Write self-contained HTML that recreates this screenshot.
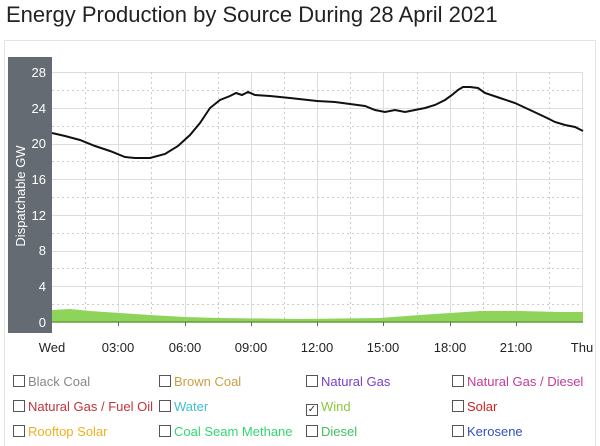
<!DOCTYPE html>
<html><head><style>
body{margin:0;background:#fff;font-family:"Liberation Sans",sans-serif;}
.t{position:absolute;left:6px;top:2px;font-size:22px;color:#222;}
.card{position:absolute;left:4px;top:40px;width:590px;height:405px;border:1px solid #e3e3e3;border-bottom:none;}
.lg{position:absolute;font-size:13px;}
.lg span{display:inline-block;width:10px;height:10px;border:1px solid #555;margin-right:3px;vertical-align:-1px;}
</style></head><body>
<div class="t">Energy Production by Source During 28 April 2021</div>
<div class="card"></div>
<svg width="600" height="445" style="position:absolute;left:0;top:0">
<rect x="8" y="57" width="44" height="276" fill="#646b72"/>
<text transform="translate(25,196) rotate(-90)" text-anchor="middle" font-size="13" fill="#fff" font-family="Liberation Sans">Dispatchable GW</text>
<g font-size="13" fill="#fff" text-anchor="end" font-family="Liberation Sans">
<text x="46" y="77">28</text><text x="46" y="113">24</text><text x="46" y="148">20</text><text x="46" y="184">16</text><text x="46" y="220">12</text><text x="46" y="255">8</text><text x="46" y="291">4</text><text x="46" y="327">0</text></g>
<g stroke="#ddd" stroke-width="1">
<line x1="52" x2="583" y1="72.5" y2="72.5"/><line x1="52" x2="583" y1="108.5" y2="108.5"/><line x1="52" x2="583" y1="144.5" y2="144.5"/><line x1="52" x2="583" y1="179.5" y2="179.5"/><line x1="52" x2="583" y1="215.5" y2="215.5"/><line x1="52" x2="583" y1="251.5" y2="251.5"/><line x1="52" x2="583" y1="286.5" y2="286.5"/>
<line x1="118.5" x2="118.5" y1="72" y2="322"/><line x1="185.5" x2="185.5" y1="72" y2="322"/><line x1="251.5" x2="251.5" y1="72" y2="322"/><line x1="317.5" x2="317.5" y1="72" y2="322"/><line x1="383.5" x2="383.5" y1="72" y2="322"/><line x1="450.5" x2="450.5" y1="72" y2="322"/><line x1="516.5" x2="516.5" y1="72" y2="322"/><line x1="582.5" x2="582.5" y1="72" y2="322"/>
</g>
<g stroke="#ccc" stroke-width="1" stroke-dasharray="2,3">
<line x1="52" x2="583" y1="90.5" y2="90.5"/><line x1="52" x2="583" y1="126.5" y2="126.5"/><line x1="52" x2="583" y1="161.5" y2="161.5"/><line x1="52" x2="583" y1="197.5" y2="197.5"/><line x1="52" x2="583" y1="233.5" y2="233.5"/><line x1="52" x2="583" y1="268.5" y2="268.5"/><line x1="52" x2="583" y1="304.5" y2="304.5"/>
<line x1="85.5" x2="85.5" y1="72" y2="322"/><line x1="151.5" x2="151.5" y1="72" y2="322"/><line x1="218.5" x2="218.5" y1="72" y2="322"/><line x1="284.5" x2="284.5" y1="72" y2="322"/><line x1="350.5" x2="350.5" y1="72" y2="322"/><line x1="417.5" x2="417.5" y1="72" y2="322"/><line x1="483.5" x2="483.5" y1="72" y2="322"/><line x1="549.5" x2="549.5" y1="72" y2="322"/>
</g>
<path d="M52,310 L70,309 L90,311 L120,313 L150,315 L185,317 L220,318 L300,319 L380,318 L420,315 L450,313 L480,311 L520,311 L560,312 L583,312 L583,322 L52,322Z" fill="#8fd45a"/>
<line x1="52" x2="583" y1="322" y2="322" stroke="#6a9a3a" stroke-width="1.5"/>
<polyline fill="none" stroke="#111" stroke-width="2" points="52,133 65,136 80,140 95,146 110,151 125,157 135,158 150,158 165,154 178,146 190,135 200,123 210,108 220,100 230,96 236,93 242,95 248,92 255,95 270,96 290,98 317,101 335,102 350,104 365,106 375,110 385,112 395,110 405,112 415,110 425,108 435,105 445,100 452,95 458,90 463,87 470,87 478,88 485,93 500,98 515,103 530,110 545,117 555,122 565,125 575,127 583,131"/>
<g stroke="#666"><line x1="118.5" x2="118.5" y1="322" y2="326"/><line x1="185.5" x2="185.5" y1="322" y2="326"/><line x1="251.5" x2="251.5" y1="322" y2="326"/><line x1="317.5" x2="317.5" y1="322" y2="326"/><line x1="383.5" x2="383.5" y1="322" y2="326"/><line x1="450.5" x2="450.5" y1="322" y2="326"/><line x1="516.5" x2="516.5" y1="322" y2="326"/></g>
<g font-size="13" fill="#222" text-anchor="middle" font-family="Liberation Sans">
<text x="52" y="352">Wed</text><text x="118" y="352">03:00</text><text x="185" y="352">06:00</text><text x="251" y="352">09:00</text><text x="317" y="352">12:00</text><text x="383" y="352">15:00</text><text x="450" y="352">18:00</text><text x="516" y="352">21:00</text><text x="582" y="352">Thu</text></g>
</svg>
<div class="lg" style="left:13px;top:374px;color:#888"><span></span>Black Coal</div>
<div class="lg" style="left:159px;top:374px;color:#c9a040"><span></span>Brown Coal</div>
<div class="lg" style="left:306px;top:374px;color:#7a3fc8"><span></span>Natural Gas</div>
<div class="lg" style="left:452px;top:374px;color:#c03c9a"><span></span>Natural Gas / Diesel</div>
<div class="lg" style="left:13px;top:399px;color:#c0343c"><span></span>Natural Gas / Fuel Oil</div>
<div class="lg" style="left:159px;top:399px;color:#40c0d0"><span></span>Water</div>
<div class="lg" style="left:306px;top:399px;color:#8ac83c"><span style="text-align:center;font-size:10px;line-height:10px;color:#333">✓</span>Wind</div>
<div class="lg" style="left:452px;top:399px;color:#d02020"><span></span>Solar</div>
<div class="lg" style="left:13px;top:424px;color:#f0b020"><span></span>Rooftop Solar</div>
<div class="lg" style="left:159px;top:424px;color:#30d870"><span></span>Coal Seam Methane</div>
<div class="lg" style="left:306px;top:424px;color:#40c060"><span></span>Diesel</div>
<div class="lg" style="left:452px;top:424px;color:#3050c0"><span></span>Kerosene</div>
</body></html>
